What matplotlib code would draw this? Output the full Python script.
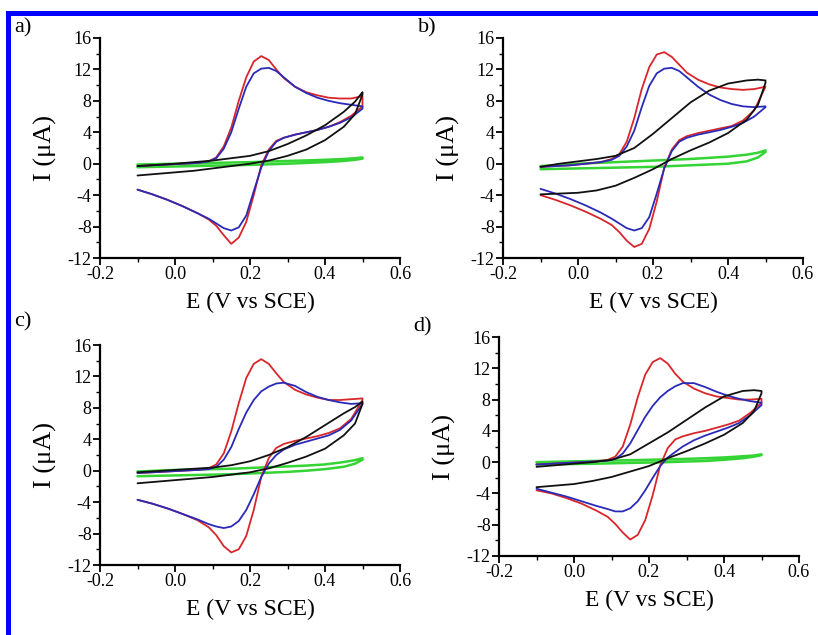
import matplotlib
matplotlib.use("Agg")
import matplotlib.pyplot as plt
from matplotlib.patches import Rectangle
from matplotlib.ticker import MultipleLocator

plt.rcParams['font.family'] = ['Liberation Serif', 'DejaVu Serif']

# Potential grids (V vs SCE)
E_fine = [-0.1, -0.06, -0.02, 0.02, 0.06, 0.09, 0.11, 0.13, 0.15, 0.17, 0.19, 0.21,
          0.23, 0.25, 0.27, 0.29, 0.32, 0.35, 0.38, 0.41, 0.44, 0.47, 0.5]
E_coarse = [-0.1, -0.05, 0.0, 0.05, 0.1, 0.15, 0.2, 0.25, 0.3, 0.35, 0.4, 0.45, 0.48, 0.5]

panel_labels = ['a)', 'b)', 'c)', 'd)']
x_ticks = [-0.2, 0.0, 0.2, 0.4, 0.6]
y_ticks = [-12, -8, -4, 0, 4, 8, 12, 16]

# ---- panel a ----
a_red_fwd = [-0.3, -0.2, -0.1, 0.0, 0.1, 0.3, 0.8, 2.2, 4.6, 8.0, 11.0, 13.0, 13.7, 13.2, 12.0, 10.9, 9.8, 9.1, 8.7, 8.4, 8.3, 8.3, 8.6]
a_red_rev = [-3.3, -3.9, -4.6, -5.4, -6.3, -7.1, -7.9, -9.1, -10.2, -9.4, -7.4, -4.0, -0.2, 1.8, 2.9, 3.3, 3.7, 4.0, 4.3, 4.7, 5.3, 6.1, 7.3]
a_blue_fwd = [-0.3, -0.2, -0.1, 0.0, 0.1, 0.3, 0.7, 1.9, 4.0, 7.0, 9.8, 11.5, 12.1, 12.2, 11.8, 11.0, 9.8, 9.0, 8.4, 8.0, 7.7, 7.5, 7.3]
a_blue_rev = [-3.3, -3.9, -4.6, -5.4, -6.3, -7.0, -7.6, -8.2, -8.5, -8.1, -6.6, -3.5, -0.5, 1.6, 2.8, 3.3, 3.7, 4.0, 4.3, 4.7, 5.2, 5.9, 7.0]
a_black_up = [-0.3, -0.15, 0.0, 0.2, 0.4, 0.7, 1.0, 1.6, 2.5, 3.6, 4.9, 6.6, 7.9, 9.1]
a_black_lo = [-1.5, -1.3, -1.1, -0.9, -0.6, -0.3, 0.0, 0.4, 1.0, 1.8, 3.0, 4.7, 6.3, 8.8]
a_green_up = [-0.1, -0.05, 0.0, 0.05, 0.1, 0.15, 0.2, 0.28, 0.35, 0.42, 0.5, 0.6, 0.7, 0.8]
a_green_lo = [-0.45, -0.4, -0.35, -0.3, -0.25, -0.2, -0.15, -0.08, 0.0, 0.1, 0.2, 0.35, 0.5, 0.65]

# ---- panel b ----
b_red_fwd = [-0.4, -0.3, -0.2, 0.0, 0.2, 0.6, 1.2, 2.8, 5.8, 9.5, 12.3, 13.9, 14.2, 13.6, 12.6, 11.6, 10.7, 10.1, 9.7, 9.5, 9.4, 9.5, 9.8]
b_red_rev = [-4.0, -4.6, -5.3, -6.1, -7.0, -7.8, -8.7, -9.8, -10.6, -10.2, -8.3, -4.8, -0.5, 1.8, 3.0, 3.5, 3.9, 4.2, 4.5, 4.8, 5.5, 6.8, 9.8]
b_blue_fwd = [-0.4, -0.3, -0.2, 0.0, 0.2, 0.5, 1.0, 2.2, 4.2, 7.2, 9.9, 11.5, 12.1, 12.2, 11.8, 11.0, 9.8, 8.8, 8.1, 7.6, 7.3, 7.2, 7.3]
b_blue_rev = [-3.2, -3.8, -4.5, -5.3, -6.2, -7.0, -7.6, -8.2, -8.5, -8.2, -6.8, -3.8, -0.6, 1.6, 2.8, 3.3, 3.7, 4.0, 4.3, 4.7, 5.2, 6.0, 7.2]
b_black_up = [-0.4, 0.0, 0.3, 0.6, 1.0, 2.0, 3.8, 5.8, 7.8, 9.3, 10.2, 10.6, 10.7, 10.6]
b_black_lo = [-3.9, -3.8, -3.7, -3.4, -2.8, -1.8, -0.7, 0.6, 1.7, 2.7, 3.9, 5.6, 7.5, 10.3]
b_green_up = [-0.3, -0.15, 0.0, 0.1, 0.2, 0.3, 0.4, 0.5, 0.6, 0.75, 0.9, 1.15, 1.4, 1.7]
b_green_lo = [-0.7, -0.65, -0.6, -0.55, -0.5, -0.45, -0.4, -0.3, -0.2, -0.1, 0.0, 0.3, 0.8, 1.5]

# ---- panel c ----
c_red_fwd = [-0.3, -0.2, -0.1, 0.0, 0.1, 0.3, 0.8, 2.2, 5.0, 8.6, 11.8, 13.6, 14.2, 13.6, 12.4, 11.3, 10.3, 9.7, 9.3, 9.0, 9.0, 9.1, 9.2]
c_red_rev = [-3.7, -4.2, -4.8, -5.5, -6.3, -7.2, -8.2, -9.6, -10.4, -10.0, -8.3, -5.0, -0.8, 1.6, 2.9, 3.4, 3.8, 4.1, 4.4, 4.8, 5.4, 6.6, 9.0]
c_blue_fwd = [-0.3, -0.2, -0.1, 0.0, 0.1, 0.2, 0.5, 1.4, 3.0, 5.3, 7.4, 9.0, 10.1, 10.7, 11.1, 11.2, 10.8, 10.0, 9.4, 9.0, 8.7, 8.5, 8.6]
c_blue_rev = [-3.7, -4.2, -4.8, -5.5, -6.2, -6.8, -7.1, -7.3, -7.1, -6.4, -5.0, -3.0, -0.8, 0.9, 2.0, 2.7, 3.3, 3.7, 4.1, 4.5, 5.2, 6.4, 8.5]
c_black_up = [-0.2, -0.05, 0.1, 0.25, 0.4, 0.7, 1.2, 2.0, 3.0, 4.3, 5.8, 7.3, 8.1, 8.8]
c_black_lo = [-1.6, -1.4, -1.2, -1.0, -0.8, -0.5, -0.2, 0.3, 1.0, 1.8, 2.8, 4.5, 6.0, 8.5]
c_green_up = [-0.1, 0.0, 0.1, 0.15, 0.2, 0.25, 0.35, 0.45, 0.55, 0.65, 0.8, 1.1, 1.35, 1.6]
c_green_lo = [-0.7, -0.65, -0.6, -0.55, -0.5, -0.45, -0.35, -0.25, -0.15, 0.0, 0.2, 0.5, 0.9, 1.4]

# ---- panel d ----
d_red_fwd = [-0.3, -0.2, -0.1, 0.0, 0.1, 0.3, 0.7, 2.0, 4.8, 8.3, 11.2, 12.8, 13.3, 12.6, 11.3, 10.3, 9.4, 8.8, 8.4, 8.2, 8.0, 8.0, 8.1]
d_red_rev = [-3.6, -4.0, -4.6, -5.3, -6.2, -7.0, -7.9, -9.0, -9.9, -9.3, -7.4, -4.2, -0.4, 1.8, 2.9, 3.3, 3.7, 4.0, 4.4, 4.8, 5.3, 6.3, 7.6]
d_blue_fwd = [-0.3, -0.2, -0.1, 0.0, 0.1, 0.2, 0.4, 1.1, 2.4, 4.1, 5.8, 7.2, 8.3, 9.1, 9.7, 10.1, 10.1, 9.6, 9.0, 8.5, 8.1, 7.8, 7.6]
d_blue_rev = [-3.4, -3.9, -4.4, -5.0, -5.6, -6.0, -6.3, -6.3, -5.9, -5.0, -3.6, -2.0, -0.5, 0.6, 1.3, 2.0, 2.8, 3.4, 3.9, 4.4, 5.0, 6.0, 7.3]
d_black_up = [-0.6, -0.4, -0.2, 0.0, 0.3, 1.0, 2.4, 3.8, 5.4, 7.0, 8.4, 9.1, 9.2, 9.1]
d_black_lo = [-3.2, -3.0, -2.8, -2.4, -1.9, -1.2, -0.5, 0.5, 1.4, 2.4, 3.5, 5.0, 6.5, 8.8]
d_green_up = [0.0, 0.05, 0.1, 0.15, 0.2, 0.25, 0.3, 0.35, 0.42, 0.5, 0.6, 0.75, 0.85, 1.0]
d_green_lo = [-0.3, -0.27, -0.24, -0.2, -0.15, -0.1, -0.05, 0.0, 0.08, 0.15, 0.3, 0.5, 0.7, 0.9]

panels = [
    (a_red_fwd, a_red_rev, a_blue_fwd, a_blue_rev, a_black_up, a_black_lo, a_green_up, a_green_lo),
    (b_red_fwd, b_red_rev, b_blue_fwd, b_blue_rev, b_black_up, b_black_lo, b_green_up, b_green_lo),
    (c_red_fwd, c_red_rev, c_blue_fwd, c_blue_rev, c_black_up, c_black_lo, c_green_up, c_green_lo),
    (d_red_fwd, d_red_rev, d_blue_fwd, d_blue_rev, d_black_up, d_black_lo, d_green_up, d_green_lo),
]

W, H = 818, 635
fig = plt.figure(figsize=(W / 100, H / 100), dpi=100)
fig.patch.set_facecolor('white')

# axes boxes in pixels: (left, top, right, bottom)
boxes = [(100, 38, 400, 258), (503, 38, 803, 258), (100, 345, 400, 565), (499, 337, 799, 556)]
letter_pos = [(14, 28), (418, 28), (14, 322), (413, 327)]

RED = '#d8262b'
BLUE = '#2a2ab8'
BLACK = '#111111'
GREEN = '#33d433'


def loop(Ef, fwd, rev):
    xs = list(Ef) + list(Ef)[::-1]
    ys = list(fwd) + list(rev)[::-1]
    return xs, ys


for i, (box, data) in enumerate(zip(boxes, panels)):
    l, t, r, b = box
    ax = fig.add_axes([l / W, 1 - b / H, (r - l) / W, (b - t) / H])
    rf, rr, bf, br, ku, kl, gu, gl = data
    kw = dict(solid_joinstyle='round', solid_capstyle='round')
    ax.plot(*loop(E_coarse, gu, gl), color=GREEN, lw=1.8, **kw)
    ax.plot(*loop(E_fine, rf, rr), color=RED, lw=1.3, **kw)
    ax.plot(*loop(E_fine, bf, br), color=BLUE, lw=1.3, **kw)
    ax.plot(*loop(E_coarse, ku, kl), color=BLACK, lw=1.3, **kw)

    ax.set_xlim(-0.2, 0.6)
    ax.set_ylim(-12, 16)
    ax.set_xticks(x_ticks)
    ax.set_yticks(y_ticks)
    ax.set_xticklabels([f'{v:.1f}' for v in x_ticks])
    ax.set_yticklabels([f'{v:d}' for v in y_ticks])
    ax.xaxis.set_minor_locator(MultipleLocator(0.1))
    ax.yaxis.set_minor_locator(MultipleLocator(2))
    for s in ['top', 'right']:
        ax.spines[s].set_visible(False)
    for s in ['left', 'bottom']:
        ax.spines[s].set_linewidth(1.6)
    ax.tick_params(which='major', direction='out', length=5, width=1.3, labelsize=13, pad=1)
    ax.tick_params(which='minor', direction='out', length=3, width=1.0)
    ax.set_xlabel('E (V vs SCE)', fontsize=17, labelpad=6)
    ax.set_ylabel('I (\u03bcA)', fontsize=19, labelpad=8)
    ax.patch.set_alpha(0)

    lx, ly = letter_pos[i]
    fig.text(lx / W, 1 - ly / H, panel_labels[i], fontsize=16, ha='left', va='center')

# blue frame (top and left edges)
fig.patches.append(Rectangle((6 / W, 1 - 15.5 / H), 1 - 6 / W, 5 / H, transform=fig.transFigure,
                             facecolor='#0000ff', edgecolor='none', zorder=10))
fig.patches.append(Rectangle((6 / W, 0), 5 / W, 1 - 10.5 / H, transform=fig.transFigure,
                             facecolor='#0000ff', edgecolor='none', zorder=10))

fig.savefig('out.png', dpi=100)
